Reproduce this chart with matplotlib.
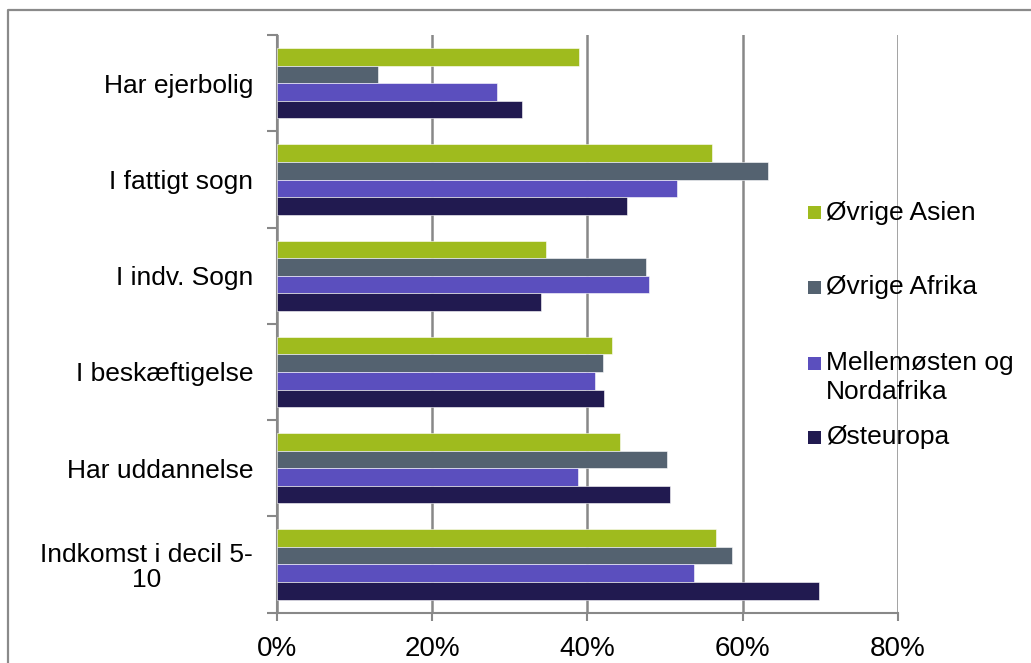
import matplotlib
matplotlib.use('Agg')
import matplotlib.pyplot as plt
import numpy as np
from matplotlib.patches import Rectangle
from matplotlib.lines import Line2D

plt.rcParams['font.family'] = ['Liberation Sans', 'DejaVu Sans']

categories = ['Har ejerbolig', 'I fattigt sogn', 'I indv. Sogn', 'I beskæftigelse',
              'Har uddannelse', 'Indkomst i decil 5-\n10']
series = ['Øvrige Asien', 'Øvrige Afrika', 'Mellemøsten og\nNordafrika', 'Østeuropa']
colors = ['#9FBB1E', '#546270', '#5B4FBE', '#211A50']

oevrige_asien = [38.9, 56.0, 34.7, 43.2, 44.2, 56.5]
oevrige_afrika = [13.0, 63.3, 47.6, 42.0, 50.2, 58.6]
mellemoesten = [28.3, 51.5, 47.9, 41.0, 38.8, 53.7]
oesteuropa = [31.6, 45.1, 34.0, 42.1, 50.7, 69.8]
values = [oevrige_asien, oevrige_afrika, mellemoesten, oesteuropa]

W, H = 1031, 663
fig = plt.figure(figsize=(W / 100, H / 100), dpi=100)
ax = fig.add_axes([0.2685, 0.076, 0.6025, 0.871])

y = np.arange(len(categories))
h = 0.182
for i, (name, vals) in enumerate(zip(series, values)):
    ax.barh(y + (i - 1.5) * h, vals, height=h, color=colors[i], label=name,
            edgecolor='white', linewidth=0.4, zorder=3)

ax.set_xlim(0, 80)
ax.set_ylim(len(categories) - 0.5, -0.5)
ax.set_xticks([0, 20, 40, 60, 80])
ax.set_xticklabels(['0%', '20%', '40%', '60%', '80%'], fontsize=20)
ax.set_yticks(y)
ax.set_yticklabels(categories, fontsize=19, multialignment='center', linespacing=1.05)
ax.set_yticks(np.arange(len(categories) + 1) - 0.5, minor=True)
ax.tick_params(axis='y', which='major', length=0, pad=17)
ax.tick_params(axis='y', which='minor', length=7, color='#888888', width=1.5)
ax.tick_params(axis='x', length=6, color='#888888', width=1.5, pad=11)
ax.grid(axis='x', color='#888888', linewidth=1.8, zorder=0)
for s in ['top', 'right']:
    ax.spines[s].set_visible(False)
for s in ['left', 'bottom']:
    ax.spines[s].set_color('#888888')
    ax.spines[s].set_linewidth(1.5)

# legend drawn by hand to follow the uneven spacing of the original
legend_y = [213, 287, 363, 437]
for name, col, ly in zip(series, colors, legend_y):
    fig.patches.append(Rectangle((808 / W, 1 - (ly + 6.5) / H), 13 / W, 13 / H,
                                 transform=fig.transFigure, facecolor=col,
                                 edgecolor='none', zorder=5))
    for k, line in enumerate(name.split('\n')):
        fig.text(826 / W, 1 - (ly + 29 * k) / H, line, fontsize=19,
                 va='center', ha='left', zorder=5)

# chart frame (only top and left edges visible in the original crop)
fig.lines.append(Line2D([8 / W, 8 / W, 1], [0, 1 - 10 / H, 1 - 10 / H],
                        transform=fig.transFigure, color='#8a8a8a', linewidth=1.6))

fig.savefig('out.png', dpi=100)
